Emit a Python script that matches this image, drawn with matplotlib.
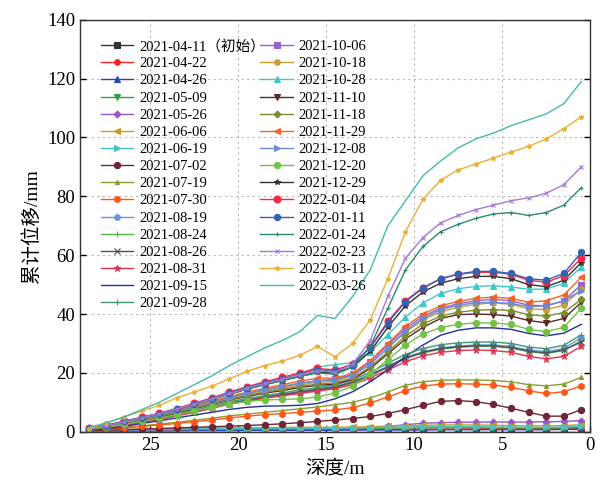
import matplotlib
matplotlib.use("Agg")
import matplotlib.pyplot as plt

plt.rcParams['font.family'] = ['Liberation Serif', 'Noto Sans CJK SC']
plt.rcParams['axes.unicode_minus'] = False

depth = [28.5, 27.5, 26.5, 25.5, 24.5, 23.5, 22.5, 21.5, 20.5, 19.5, 18.5, 17.5, 16.5, 15.5, 14.5,
         13.5, 12.5, 11.5, 10.5, 9.5, 8.5, 7.5, 6.5, 5.5, 4.5, 3.5, 2.5, 1.5, 0.5]

dates = ['2021-04-11（初始）', '2021-04-22', '2021-04-26', '2021-05-09', '2021-05-26', '2021-06-06',
         '2021-06-19', '2021-07-02', '2021-07-19', '2021-07-30', '2021-08-19', '2021-08-24',
         '2021-08-26', '2021-08-31', '2021-09-15', '2021-09-28', '2021-10-06', '2021-10-18',
         '2021-10-28', '2021-11-10', '2021-11-18', '2021-11-29', '2021-12-08', '2021-12-20',
         '2021-12-29', '2022-01-04', '2022-01-11', '2022-01-24', '2022-02-23', '2022-03-11',
         '2022-03-26']

s0411 = [0.0, 0.0, 0.0, 0.0, 0.0, 0.0, 0.0, 0.0, 0.0, 0.0, 0.0, 0.0, 0.0, 0.0, 0.0,
         0.0, 0.0, 0.0, 0.0, 0.0, 0.0, 0.0, 0.0, 0.0, 0.0, 0.0, 0.0, 0.0, 0.0]
s0422 = [0.2, 0.3, 0.3, 0.4, 0.4, 0.5, 0.5, 0.5, 0.6, 0.6, 0.6, 0.7, 0.7, 0.7, 0.7,
         0.7, 0.8, 0.8, 0.8, 0.9, 0.9, 0.9, 1.0, 1.0, 1.0, 1.0, 1.0, 1.0, 1.1]
s0426 = [0.1, 0.2, 0.2, 0.3, 0.3, 0.3, 0.4, 0.4, 0.4, 0.5, 0.5, 0.5, 0.5, 0.5, 0.5,
         0.6, 0.6, 0.6, 0.6, 0.6, 0.7, 0.7, 0.7, 0.7, 0.7, 0.7, 0.7, 0.8, 0.8]
s0509 = [0.3, 0.4, 0.5, 0.6, 0.6, 0.7, 0.8, 0.8, 0.9, 0.9, 1.0, 1.0, 1.0, 1.0, 1.0,
         1.1, 1.1, 1.2, 1.3, 1.4, 1.4, 1.4, 1.4, 1.4, 1.3, 1.3, 1.3, 1.3, 1.5]
s0526 = [0.2, 0.3, 0.4, 0.5, 0.6, 0.7, 0.8, 0.8, 0.9, 0.9, 1.0, 1.0, 1.1, 1.1, 1.1,
         1.2, 1.4, 1.8, 2.4, 2.9, 3.1, 3.2, 3.3, 3.3, 3.3, 3.3, 3.4, 3.5, 3.8]
s0606 = [0.4, 0.6, 0.8, 0.9, 1.0, 1.1, 1.2, 1.3, 1.3, 1.4, 1.4, 1.5, 1.5, 1.5, 1.5,
         1.6, 1.7, 1.9, 2.1, 2.2, 2.3, 2.3, 2.3, 2.2, 2.1, 2.0, 2.0, 2.1, 2.4]
s0619 = [0.3, 0.5, 0.6, 0.7, 0.8, 0.9, 1.0, 1.0, 1.1, 1.1, 1.2, 1.2, 1.2, 1.2, 1.2,
         1.3, 1.4, 1.5, 1.6, 1.7, 1.7, 1.7, 1.7, 1.6, 1.6, 1.5, 1.5, 1.6, 1.9]
s0702 = [0.3, 0.5, 0.7, 0.9, 1.1, 1.3, 1.5, 1.7, 1.9, 2.1, 2.4, 2.7, 3.1, 3.5, 4.0,
         4.5, 5.2, 6.2, 7.5, 9.0, 10.3, 10.6, 10.2, 9.3, 8.0, 6.6, 5.3, 5.3, 7.5]
s0719 = [0.6, 1.0, 1.5, 2.0, 2.6, 3.2, 3.9, 4.6, 5.4, 6.0, 6.6, 7.2, 7.8, 8.4, 9.2,
         10.0, 11.5, 13.5, 15.8, 17.0, 17.5, 17.6, 17.6, 17.4, 17.0, 16.0, 15.6, 16.2, 18.5]
s0730 = [0.5, 0.9, 1.3, 1.8, 2.3, 2.8, 3.4, 4.0, 4.7, 5.3, 5.8, 6.2, 6.6, 7.0, 7.4,
         8.2, 9.8, 11.8, 14.0, 15.5, 16.2, 16.3, 16.2, 15.9, 15.1, 13.9, 13.0, 13.6, 15.6]
s0819 = [1.0, 1.5, 2.5, 3.5, 4.5, 5.8, 7.0, 8.4, 9.8, 10.9, 11.9, 12.8, 13.8, 14.6, 15.5,
         17.0, 19.5, 22.3, 25.2, 27.2, 28.5, 29.1, 29.5, 29.5, 29.0, 27.8, 27.2, 28.3, 32.0]
s0824 = [0.9, 1.4, 2.3, 3.3, 4.3, 5.5, 6.7, 8.0, 9.4, 10.5, 11.5, 12.4, 13.3, 14.0, 15.0,
         16.5, 19.0, 22.0, 24.8, 26.8, 28.0, 28.7, 29.0, 29.0, 28.5, 27.2, 26.6, 27.6, 31.0]
s0826 = [0.9, 1.4, 2.4, 3.4, 4.4, 5.6, 6.8, 8.2, 9.6, 10.7, 11.7, 12.6, 13.5, 14.3, 15.2,
         16.8, 19.2, 22.0, 25.0, 27.0, 28.3, 28.9, 29.2, 29.2, 28.6, 27.4, 26.8, 27.8, 30.5]
s0831 = [0.8, 1.3, 2.2, 3.2, 4.2, 5.4, 6.6, 8.0, 9.4, 10.5, 11.4, 12.2, 13.0, 13.8, 14.6,
         16.0, 18.3, 21.0, 23.8, 25.8, 27.0, 27.6, 27.8, 27.6, 27.0, 25.6, 24.8, 25.6, 29.0]
s0915 = [0.5, 1.0, 1.8, 2.8, 3.7, 4.7, 5.7, 6.6, 7.6, 8.3, 8.7, 8.8, 9.0, 9.6, 11.2,
         13.6, 17.0, 21.0, 25.5, 29.5, 32.8, 34.5, 35.3, 35.3, 34.8, 33.4, 32.6, 33.5, 36.5]
s0928 = [1.0, 1.6, 2.6, 3.7, 4.8, 6.0, 7.3, 8.7, 10.2, 11.3, 12.3, 13.2, 14.2, 15.0, 16.0,
         17.6, 20.2, 23.3, 26.3, 28.3, 29.6, 30.2, 30.5, 30.5, 30.0, 28.8, 28.2, 29.4, 33.0]
s1006 = [1.0, 1.9, 3.1, 4.2, 5.5, 6.9, 8.4, 10.0, 11.6, 13.0, 14.2, 15.3, 16.4, 17.3, 17.8,
         19.6, 23.8, 29.5, 35.0, 39.2, 42.0, 43.5, 44.5, 45.0, 44.5, 43.0, 42.8, 44.5, 50.0]
s1018 = [1.0, 1.8, 3.0, 4.1, 5.3, 6.7, 8.2, 9.7, 11.3, 12.6, 13.8, 14.8, 15.9, 16.8, 17.2,
         19.0, 23.0, 28.5, 33.8, 38.0, 40.8, 42.3, 43.3, 43.8, 43.3, 41.8, 41.5, 43.0, 48.5]
s1028 = [1.2, 2.2, 3.5, 4.8, 6.2, 7.8, 9.5, 11.2, 13.0, 14.6, 16.2, 17.8, 19.6, 22.0, 22.8,
         23.5, 27.0, 33.0, 39.0, 43.8, 47.0, 48.6, 49.4, 49.6, 49.2, 48.4, 48.5, 50.5, 56.0]
s1110 = [1.0, 1.7, 2.8, 3.9, 5.1, 6.4, 7.8, 9.3, 10.8, 12.0, 13.1, 14.0, 15.0, 15.8, 16.2,
         17.8, 21.5, 26.5, 31.5, 35.5, 38.5, 39.8, 40.0, 39.8, 39.3, 37.8, 37.0, 38.5, 44.0]
s1118 = [1.0, 1.8, 2.9, 4.0, 5.2, 6.6, 8.0, 9.5, 11.0, 12.3, 13.4, 14.4, 15.4, 16.2, 16.6,
         18.3, 22.0, 27.2, 32.5, 36.6, 39.3, 40.6, 41.3, 41.5, 41.2, 39.8, 39.3, 40.5, 45.0]
s1129 = [1.1, 2.0, 3.2, 4.4, 5.7, 7.2, 8.8, 10.4, 12.0, 13.5, 14.8, 16.0, 17.2, 18.2, 18.2,
         19.8, 24.2, 30.0, 35.8, 40.0, 42.8, 44.3, 45.3, 45.8, 45.3, 44.0, 44.5, 46.5, 52.5]
s1208 = [1.1, 1.9, 3.1, 4.3, 5.6, 7.0, 8.5, 10.0, 11.6, 13.0, 14.3, 15.4, 16.5, 17.4, 17.6,
         19.2, 23.0, 28.6, 34.2, 38.5, 41.5, 43.0, 43.8, 44.0, 43.6, 42.5, 42.8, 44.5, 48.0]
s1220 = [0.8, 1.5, 2.5, 3.5, 4.6, 5.8, 7.0, 8.3, 9.5, 10.3, 10.8, 11.0, 11.2, 11.8, 13.2,
         15.5, 19.5, 24.5, 29.5, 33.2, 35.4, 36.5, 37.0, 37.0, 36.5, 34.8, 34.0, 35.5, 42.0]
s1229 = [1.1, 2.0, 3.4, 4.7, 6.0, 7.6, 9.3, 11.0, 12.8, 14.5, 16.0, 17.4, 18.8, 20.2, 20.0,
         22.0, 27.3, 35.5, 42.8, 47.5, 50.5, 52.0, 52.8, 52.8, 52.0, 50.0, 49.3, 51.5, 57.5]
s0104 = [1.2, 2.2, 3.6, 4.9, 6.3, 7.9, 9.7, 11.5, 13.5, 15.3, 17.0, 18.5, 20.0, 21.5, 21.0,
         23.0, 28.8, 37.5, 44.5, 49.0, 52.0, 53.5, 54.2, 54.2, 53.5, 51.5, 50.8, 53.0, 59.0]
s0111 = [1.1, 2.1, 3.5, 4.8, 6.2, 7.8, 9.5, 11.3, 13.2, 15.0, 16.6, 18.0, 19.5, 21.0, 20.5,
         22.8, 28.5, 37.0, 44.2, 48.8, 52.0, 53.6, 54.5, 54.5, 53.8, 52.0, 51.5, 53.8, 61.0]
s0124 = [1.0, 2.0, 3.3, 4.6, 6.0, 7.6, 9.3, 11.0, 12.8, 14.5, 16.0, 17.4, 18.8, 20.0, 19.5,
         22.0, 29.0, 42.0, 55.0, 63.0, 68.0, 70.5, 72.5, 74.0, 74.5, 73.5, 74.5, 77.0, 83.0]
s0223 = [1.0, 2.0, 3.3, 4.7, 6.1, 7.7, 9.4, 11.2, 13.0, 14.8, 16.4, 17.8, 19.4, 20.8, 20.2,
         23.0, 31.0, 46.0, 59.0, 66.0, 71.0, 73.5, 75.5, 77.0, 78.5, 79.5, 81.0, 84.0, 90.0]
s0311 = [1.0, 3.0, 5.0, 7.0, 9.0, 11.5, 13.5, 15.5, 18.0, 20.5, 22.5, 24.0, 26.0, 29.0, 25.5,
         30.0, 38.0, 52.0, 68.0, 79.0, 85.5, 89.0, 91.0, 93.0, 95.0, 97.0, 99.5, 103.0, 107.0]
s0326 = [1.5, 3.0, 5.0, 7.5, 10.0, 13.0, 16.0, 19.0, 22.5, 25.5, 28.5, 31.0, 34.0, 39.5, 38.5,
         46.0, 55.0, 70.0, 78.5, 87.0, 92.0, 96.5, 99.5, 101.5, 104.0, 106.0, 108.0, 111.5, 119.0]

series = [s0411, s0422, s0426, s0509, s0526, s0606, s0619, s0702, s0719, s0730, s0819, s0824,
          s0826, s0831, s0915, s0928, s1006, s1018, s1028, s1110, s1118, s1129, s1208, s1220,
          s1229, s0104, s0111, s0124, s0223, s0311, s0326]

# (marker, colour, markersize)
styles = [('s', '#333333', 4), ('o', '#ff2020', 4), ('^', '#2845b8', 4), ('v', '#35a045', 4),
          ('D', '#9a55c8', 3.5), ('<', '#c89a25', 4), ('>', '#45c2c2', 4), ('o', '#6e2535', 4.5),
          ('^', '#8c9c30', 3), ('h', '#ff5515', 4.5), ('o', '#6a95e0', 4), ('+', '#55b045', 4),
          ('x', '#505050', 4), ('*', '#e83050', 4.5), ('', '#23309a', 4), ('+', '#3e9a6e', 4),
          ('s', '#9a60cc', 4), ('o', '#c8a032', 4), ('^', '#40c8c8', 4), ('v', '#5a2828', 4.5),
          ('D', '#7a8c30', 3.5), ('<', '#f06525', 4.5), ('>', '#6a8ad8', 4.5), ('o', '#72c245', 4.5),
          ('*', '#333333', 4), ('o', '#ff2545', 5), ('o', '#3262b2', 4.5), ('+', '#2a8a6c', 3),
          ('x', '#a878d8', 3.5), ('*', '#e8b035', 3.5), ('', '#45b8b0', 4)]

fig = plt.figure(figsize=(6.01, 4.94), dpi=100)
ax = fig.add_axes([0.133, 0.126, 0.849, 0.834])

for vals, lab, (mk, col, ms) in zip(series, dates, styles):
    ax.plot(depth, vals, marker=mk, color=col, markersize=ms, linewidth=1.0,
            markeredgewidth=0.8, label=lab)

ax.set_xlim(29, 0)
ax.set_ylim(0, 140)
ax.set_xticks([25, 20, 15, 10, 5, 0])
ax.set_yticks([0, 20, 40, 60, 80, 100, 120, 140])
ax.grid(True, linestyle=(0, (2, 3)), color='#b8b8b8', linewidth=0.8)
ax.tick_params(direction='in', right=True, labelsize=13.5, length=4, width=1)
for sp in ax.spines.values():
    sp.set_linewidth(1.0)
    sp.set_color('#333333')

ax.set_xlabel('深度/m', fontsize=14)
ax.set_ylabel('累计位移/mm', fontsize=14)

ax.legend(ncol=2, loc='upper left', bbox_to_anchor=(0.03, 0.967), frameon=False,
          fontsize=10.5, handlelength=2.2, labelspacing=0.27, columnspacing=-0.3,
          handletextpad=0.4, borderaxespad=0.0)

fig.savefig('out.png', dpi=100)
